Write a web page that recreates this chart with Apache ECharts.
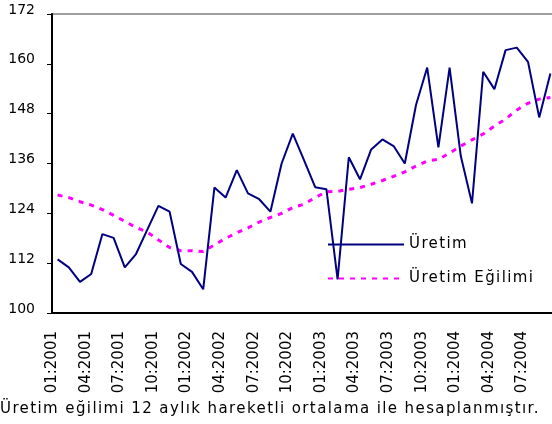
<!DOCTYPE html>
<html>
<head>
<meta charset="utf-8">
<script src="https://cdn.jsdelivr.net/npm/echarts@6/dist/echarts.min.js"></script>
<style>
    html, body { margin: 0; padding: 0; background: #fff; }
    #mainView { width: 552px; height: 424px; }
</style>
</head>
<body>
<div id="mainView"></div>
<script>
var aylar = ['01:2001', '02:2001', '03:2001', '04:2001', '05:2001', '06:2001', '07:2001', '08:2001', '09:2001', '10:2001', '11:2001', '12:2001',
    '01:2002', '02:2002', '03:2002', '04:2002', '05:2002', '06:2002', '07:2002', '08:2002', '09:2002', '10:2002', '11:2002', '12:2002',
    '01:2003', '02:2003', '03:2003', '04:2003', '05:2003', '06:2003', '07:2003', '08:2003', '09:2003', '10:2003', '11:2003', '12:2003',
    '01:2004', '02:2004', '03:2004', '04:2004', '05:2004', '06:2004', '07:2004', '08:2004', '09:2004'];

var uretim = [112.9, 111.0, 107.5, 109.4, 119.0, 118.1, 111.0, 114.2, 120.0, 125.8, 124.4, 111.8,
    109.9, 105.7, 130.2, 127.8, 134.4, 128.8, 127.4, 124.4, 136.0, 143.2, 136.8, 130.3,
    129.8, 108.1, 137.5, 132.2, 139.4, 141.8, 140.2, 136.0, 150.1, 159.1, 139.9, 159.1,
    137.8, 126.4, 158.1, 153.9, 163.3, 163.9, 160.5, 147.1, 157.7];

var egilim = [128.4, 127.8, 126.8, 126.0, 124.9, 123.5, 122.1, 120.6, 119.5, 117.6, 115.8, 115.0,
    115.0, 114.8, 116.4, 118.0, 119.3, 120.5, 121.9, 123.0, 124.0, 125.4, 126.2, 127.8,
    129.2, 129.3, 129.8, 130.2, 131.0, 131.9, 132.9, 134.0, 135.4, 136.6, 137.0, 138.5,
    140.2, 141.7, 143.1, 145.0, 146.7, 148.9, 150.5, 151.5, 151.9];

var seriAdlari = ['Üretim', 'Üretim Eğilimi'];
var dipnot = 'Üretim eğilimi 12 aylık hareketli ortalama ile hesaplanmıştır.';

var yazi = 'DejaVu Sans';

var chart = echarts.init(document.getElementById('mainView'));
// legend and footnote sit on their own layer so only they get the wide letter spacing
var katman = chart.getZr().painter.getLayer(1);
if (katman && katman.ctx) {
    katman.ctx.letterSpacing = '1.4px';
}

chart.setOption({
    animation: false,
    backgroundColor: '#fff',
    grid: {
        left: 52,
        top: 14,
        right: -4,
        bottom: 111,
        outerBoundsMode: 'none',
        show: true,
        borderColor: '#808080',
        borderWidth: 1.5
    },
    legend: {
        data: seriAdlari,
        zlevel: 1,
        orient: 'vertical',
        left: 322,
        top: 232,
        itemWidth: 76,
        itemHeight: 14,
        itemGap: 19,
        itemStyle: { opacity: 0 },
        textStyle: { fontFamily: yazi, fontSize: 15, color: '#000' }
    },
    graphic: [{
        type: 'text',
        zlevel: 1,
        left: 0,
        top: 402,
        style: { text: dipnot, font: '15px "DejaVu Sans"', fill: '#000' }
    }],
    xAxis: {
        type: 'category',
        data: aylar,
        boundaryGap: true,
        axisLine: { lineStyle: { color: '#000', width: 2 } },
        axisTick: { interval: 2, length: 5, lineStyle: { color: '#000', width: 1 } },
        axisLabel: {
            interval: 2,
            rotate: 90,
            margin: 18,
            verticalAlign: 'bottom',
            lineHeight: 11,
            fontFamily: yazi,
            fontSize: 15,
            color: '#000'
        },
        splitLine: { show: false }
    },
    yAxis: {
        type: 'value',
        min: 100,
        max: 172,
        interval: 12,
        axisLine: { show: true, lineStyle: { color: '#000', width: 2 } },
        axisTick: { show: true, length: 5, lineStyle: { color: '#000', width: 1 } },
        axisLabel: {
            margin: 17,
            fontFamily: yazi,
            fontSize: 14,
            color: '#000',
            verticalAlign: 'bottom',
            lineHeight: 8
        },
        splitLine: { show: false }
    },
    series: [
        {
            name: seriAdlari[0],
            type: 'line',
            symbol: 'none',
            data: uretim,
            lineStyle: { color: '#000080', width: 2 },
            itemStyle: { color: '#000080' },
            z: 3
        },
        {
            name: seriAdlari[1],
            type: 'line',
            symbol: 'none',
            data: egilim,
            lineStyle: { color: '#ff00ff', width: 3, type: [5, 6] },
            itemStyle: { color: '#ff00ff' },
            z: 2
        }
    ]
});
</script>
</body>
</html>
